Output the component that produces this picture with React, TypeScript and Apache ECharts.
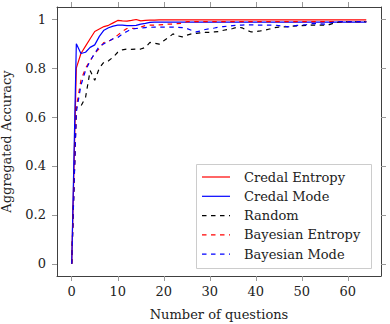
import React, { useEffect, useRef } from "react";
import * as echarts from "echarts";

const questions: number[] = Array.from({ length: 65 }, (_, i) => i);

const credalEntropy = [
  0, 0.8, 0.86, 0.89, 0.92, 0.95, 0.96, 0.97, 0.975, 0.985, 0.995, 0.993, 0.992, 0.995, 0.999, 0.993,
  0.995, 0.996, 0.996, 0.997, 0.997, 0.997, 0.997, 0.997, 0.997, 0.997, 0.997, 0.997, 0.997, 0.997,
  0.997, 0.997, 0.997, 0.997, 0.997, 0.997, 0.997, 0.997, 0.997, 0.997, 0.997, 0.997, 0.997, 0.997,
  0.997, 0.997, 0.997, 0.997, 0.997, 0.997, 0.997, 0.997, 0.997, 0.997, 0.997, 0.997, 0.997, 0.997,
  0.997, 0.997, 0.997, 0.997, 0.997, 0.997, 0.997,
];

const credalMode = [
  0, 0.9, 0.86, 0.865, 0.885, 0.895, 0.93, 0.955, 0.965, 0.972, 0.976, 0.976, 0.974, 0.974, 0.975, 0.98,
  0.983, 0.987, 0.988, 0.988, 0.988, 0.988, 0.988, 0.988, 0.988, 0.988, 0.988, 0.988, 0.988, 0.988,
  0.988, 0.988, 0.988, 0.988, 0.988, 0.988, 0.988, 0.988, 0.988, 0.988, 0.988, 0.988, 0.988, 0.988,
  0.988, 0.988, 0.988, 0.988, 0.988, 0.988, 0.988, 0.988, 0.988, 0.988, 0.988, 0.988, 0.988, 0.988,
  0.988, 0.988, 0.988, 0.988, 0.988, 0.988, 0.988,
];

const randomAcc = [
  0, 0.64, 0.645, 0.68, 0.79, 0.75, 0.8, 0.825, 0.83, 0.845, 0.865, 0.875, 0.878, 0.877, 0.878, 0.878,
  0.885, 0.905, 0.902, 0.898, 0.912, 0.925, 0.94, 0.932, 0.928, 0.935, 0.94, 0.942, 0.944, 0.946,
  0.946, 0.948, 0.95, 0.955, 0.958, 0.962, 0.968, 0.965, 0.955, 0.948, 0.95, 0.952, 0.955, 0.96,
  0.965, 0.968, 0.969, 0.97, 0.972, 0.973, 0.974, 0.975, 0.976, 0.976, 0.976, 0.976, 0.978, 0.985,
  0.988, 0.99, 0.99, 0.99, 0.99, 0.99, 0.99,
];

const bayesianEntropy = [
  0, 0.64, 0.75, 0.8, 0.83, 0.86, 0.88, 0.905, 0.91, 0.92, 0.935, 0.95, 0.962, 0.963, 0.962, 0.968,
  0.974, 0.976, 0.976, 0.977, 0.978, 0.98, 0.98, 0.982, 0.983, 0.99, 0.99, 0.99, 0.99, 0.99, 0.99,
  0.99, 0.99, 0.99, 0.99, 0.99, 0.99, 0.99, 0.99, 0.99, 0.99, 0.99, 0.99, 0.99, 0.99, 0.99, 0.99,
  0.99, 0.99, 0.99, 0.99, 0.99, 0.99, 0.99, 0.99, 0.99, 0.99, 0.99, 0.99, 0.99, 0.99, 0.99, 0.99,
  0.99, 0.99,
];

const bayesianMode = [
  0, 0.62, 0.73, 0.79, 0.83, 0.86, 0.89, 0.9, 0.91, 0.92, 0.925, 0.94, 0.95, 0.96, 0.962, 0.964,
  0.966, 0.967, 0.968, 0.968, 0.968, 0.968, 0.968, 0.967, 0.966, 0.962, 0.955, 0.948, 0.952, 0.958,
  0.961, 0.964, 0.968, 0.97, 0.972, 0.974, 0.975, 0.976, 0.977, 0.977, 0.976, 0.976, 0.976, 0.976,
  0.976, 0.974, 0.971, 0.969, 0.972, 0.975, 0.976, 0.978, 0.982, 0.982, 0.981, 0.98, 0.985, 0.988,
  0.99, 0.99, 0.99, 0.99, 0.99, 0.99, 0.99,
];

const seriesNames = ["Credal Entropy", "Credal Mode", "Random", "Bayesian Entropy", "Bayesian Mode"];
const xTicks = [0, 10, 20, 30, 40, 50, 60];
const yTicks = [0, 0.2, 0.4, 0.6, 0.8, 1];

const FONT = "'DejaVu Serif', 'Liberation Serif', serif";

export default function App() {
  const ref = useRef<HTMLDivElement>(null);
  useEffect(() => {
    if (!ref.current) return;
    const chart = echarts.init(ref.current, undefined, { renderer: "svg" });
    const mk = (arr: number[]) => questions.map((q, i) => [q, arr[i]]);
    const frameColor = "#404040";
    const tickColor = "#999";
    const baseX = {
      type: "value" as const,
      min: -3.2,
      max: 67.2,
      splitLine: { show: false },
      axisLine: { show: true, onZero: false, lineStyle: { color: frameColor, width: 1 } },
    };
    const baseY = {
      type: "value" as const,
      min: -0.05,
      max: 1.05,
      splitLine: { show: false },
      axisLine: { show: true, onZero: false, lineStyle: { color: frameColor, width: 1 } },
    };
    const dash = [4.5, 4.5];
    const styles = [
      { color: "#ff0000", type: "solid" as any },
      { color: "#0000ff", type: "solid" as any },
      { color: "#000000", type: dash as any },
      { color: "#ff0000", type: dash as any },
      { color: "#0000ff", type: dash as any },
    ];
    const datas = [credalEntropy, credalMode, randomAcc, bayesianEntropy, bayesianMode];
    const series = seriesNames.map((name, k) => ({
      name,
      type: "line" as const,
      data: mk(datas[k]),
      showSymbol: false,
      symbol: "none",
      color: styles[k].color,
      lineStyle: { color: styles[k].color, width: 1.2, type: styles[k].type },
    }));

    const lx = 196.5, ly = 164.5, lw = 175, lh = 104;
    const legendItems: any[] = [
      {
        type: "rect",
        shape: { x: lx, y: ly, width: lw, height: lh },
        style: { fill: "#fff", stroke: "#cccccc", lineWidth: 1 },
        z: 100,
      },
    ];
    seriesNames.forEach((name, k) => {
      const cy = 177 + k * 19.3;
      legendItems.push({
        type: "line",
        shape: { x1: 202, y1: cy, x2: 230, y2: cy },
        style: {
          stroke: styles[k].color,
          lineWidth: 1.2,
          lineDash: k >= 2 ? dash : null,
        },
        z: 101,
      });
      legendItems.push({
        type: "text",
        x: 244,
        y: cy,
        style: {
          text: name,
          fontFamily: FONT,
          fontSize: 13,
          fill: "#222",
          textVerticalAlign: "middle",
          verticalAlign: "middle",
        },
        z: 101,
      });
    });

    chart.setOption({
      animation: false,
      grid: { left: 57, right: 9, top: 7, bottom: 48, containLabel: false, outerBoundsMode: "none" },
      xAxis: [
        {
          ...baseX,
          position: "bottom",
          name: "Number of questions",
          nameLocation: "middle",
          nameGap: 32,
          nameTextStyle: { fontFamily: FONT, fontSize: 13, color: "#222" },
          axisTick: { show: true, inside: false, length: 5, customValues: xTicks, lineStyle: { color: tickColor } },
          axisLabel: {
            show: true,
            margin: 9,
            customValues: xTicks,
            fontFamily: FONT,
            fontSize: 13,
            color: "#222",
            formatter: (v: number) => String(v),
          },
        },
        {
          ...baseX,
          position: "top",
          axisTick: { show: true, inside: false, length: 5, customValues: xTicks, lineStyle: { color: tickColor } },
          axisLabel: { show: false },
        },
      ],
      yAxis: [
        {
          ...baseY,
          position: "left",
          name: "Aggregated Accuracy",
          nameLocation: "middle",
          nameGap: 44,
          nameRotate: 90,
          nameTextStyle: { fontFamily: FONT, fontSize: 13, color: "#222" },
          axisTick: { show: true, inside: false, length: 5, customValues: yTicks, lineStyle: { color: tickColor } },
          axisLabel: {
            show: true,
            margin: 11,
            customValues: yTicks,
            fontFamily: FONT,
            fontSize: 13,
            color: "#222",
            formatter: (v: number) => String(v),
          },
        },
        {
          ...baseY,
          position: "right",
          axisTick: { show: true, inside: false, length: 5, customValues: yTicks, lineStyle: { color: tickColor } },
          axisLabel: { show: false },
        },
      ],
      graphic: legendItems,
      series,
    });
    return () => chart.dispose();
  }, []);
  return (
    <div
      ref={ref}
      style={{ position: "absolute", left: 0, top: 0, width: 390, height: 324 }}
    />
  );
}
